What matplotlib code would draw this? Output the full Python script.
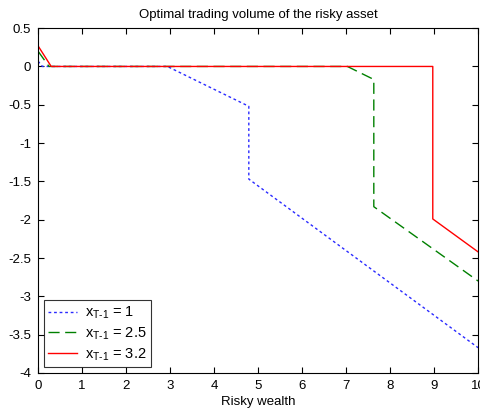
import matplotlib
matplotlib.use("Agg")
import matplotlib.pyplot as plt

plt.rcParams['font.family'] = ['Liberation Sans', 'DejaVu Sans']
plt.rcParams['mathtext.fontset'] = 'custom'
plt.rcParams['mathtext.rm'] = 'Liberation Sans'
plt.rcParams['mathtext.it'] = 'Liberation Sans'

# x_{T-1} = 1
x1 = [0, 0.1, 2.94, 4.79, 4.79, 10]
y1 = [0.07, 0, 0, -0.52, -1.47, -3.67]
# x_{T-1} = 2.5
x2 = [0, 0.25, 7.03, 7.63, 7.63, 10]
y2 = [0.2, 0, 0, -0.17, -1.83, -2.8]
# x_{T-1} = 3.2
x3 = [0, 0.3, 8.97, 8.97, 10]
y3 = [0.27, 0, 0, -1.99, -2.42]

labels = [r'$\mathregular{x_{T\text{-}1}}$ = 1', r'$\mathregular{x_{T\text{-}1}}$ = 2.5',
          r'$\mathregular{x_{T\text{-}1}}$ = 3.2']
xticks = list(range(0, 11))
yticks = [0.5, 0, -0.5, -1, -1.5, -2, -2.5, -3, -3.5, -4]
yticklabels = ['0.5', '0', '-0.5', '-1', '-1.5', '-2', '-2.5', '-3', '-3.5', '-4']

fs = 9.5
fig = plt.figure(figsize=(4.81, 4.12), dpi=100)
ax = fig.add_axes([0.079, 0.0947, 0.915, 0.837])
ax.plot(x1, y1, color='#2a2aff', linestyle=(0, (2, 2)), lw=1.0, label=labels[0])
ax.plot(x2, y2, color='#008000', linestyle=(0, (8, 4)), lw=1.0, label=labels[1])
ax.plot(x3, y3, color='#ff0000', linestyle='-', lw=1.0, label=labels[2])
ax.set_xlim(0, 10)
ax.set_ylim(-4, 0.5)
ax.set_xticks(xticks)
ax.set_yticks(yticks)
ax.set_yticklabels(yticklabels)
ax.tick_params(direction='in', top=True, right=True, labelsize=fs, length=4, width=0.8)
ax.tick_params(axis='x', pad=5)
ax.tick_params(axis='y', pad=5)
for s in ax.spines.values():
    s.set_linewidth(0.8)
ax.set_title('Optimal trading volume of the risky asset', fontsize=fs, pad=7)
ax.set_xlabel('Risky wealth', fontsize=fs, labelpad=3)
leg = ax.legend(loc='lower left', fontsize=10.5, frameon=True, fancybox=False,
                edgecolor='black', borderaxespad=0.4, handlelength=2.0,
                handletextpad=0.55, labelspacing=0.3, borderpad=0.3)
leg.get_frame().set_linewidth(0.8)
fig.savefig('out.png', dpi=100)
